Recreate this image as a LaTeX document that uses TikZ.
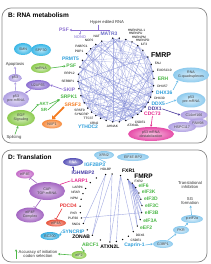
\documentclass[tikz,border=0pt]{standalone}
\usepackage{fontspec}
\setmainfont{Liberation Sans}
\usetikzlibrary{arrows.meta,shapes.geometric,calc}
\pgfdeclarelayer{bg}
\pgfsetlayers{bg,main}
\newcommand\fsz[2]{\fontsize{#1}{#2}\selectfont}
\definecolor{cBlue}{HTML}{2E9FDB}
\definecolor{cGreen}{HTML}{4DB848}
\definecolor{cPurple}{HTML}{8C6FD1}
\definecolor{cDPurple}{HTML}{4B3A9E}
\definecolor{cOrange}{HTML}{F47B20}
\definecolor{cMag}{HTML}{E5258C}
\definecolor{cRed}{HTML}{E83A3A}
\definecolor{cIndigo}{HTML}{4A3FA8}
\definecolor{cMatr}{HTML}{6D6FC8}
\definecolor{cNono}{HTML}{A99BE0}
\definecolor{cChord}{HTML}{7C86D6}
\definecolor{cLBlue}{HTML}{8ECBEE}
\definecolor{cLBlueA}{HTML}{6FBDE8}
\definecolor{cCyan}{HTML}{38B6E6}
\definecolor{cLav}{HTML}{B0A0E2}
\definecolor{cBubG}{HTML}{8CCB4E}
\definecolor{cBubO}{HTML}{F68A3C}
\definecolor{cBubM}{HTML}{E64CA8}
\definecolor{cBubP}{HTML}{A467C2}
\definecolor{cBubPk}{HTML}{C46BC8}
\definecolor{cBubR}{HTML}{E8543C}
\definecolor{cBubB}{HTML}{3AAEE0}
\definecolor{cBubI}{HTML}{5A54B8}
\definecolor{cPanel}{HTML}{8A8A8A}
\tikzset{
  dot/.style={circle,fill=black,inner sep=0pt,minimum size=1.5pt},
  sl/.style={font=\fsz{3.2}{3.6},inner sep=0.6pt},
  none/.style={inner sep=0pt},
  lbBase/.style={font=\bfseries\fsz{5}{5.5},inner sep=0.6pt},
  lbBlue/.style={lbBase,text=cBlue},
  lbGreen/.style={lbBase,text=cGreen},
  lbPurple/.style={lbBase,text=cPurple},
  lbDPurple/.style={lbBase,text=cDPurple},
  lbOrange/.style={lbBase,text=cOrange},
  lbMag/.style={lbBase,text=cMag},
  lbRed/.style={lbBase,text=cRed},
  lbIndigo/.style={lbBase,text=cIndigo},
  lbBlack/.style={lbBase,text=black},
  lbBig/.style={font=\bfseries\fsz{7}{7.5},inner sep=0.6pt},
  lbBigD/.style={font=\bfseries\fsz{6.5}{7},inner sep=0.6pt},
  bub/.style={ellipse,inner sep=0pt,align=center,font=\fsz{3.6}{4.1},text=black!75,inner color=#1!35,outer color=#1},
  chord/.style={cChord,opacity=0.55,line width=0.3pt},
  chordD/.style={cChord,opacity=0.7,line width=0.4pt},
  arr/.style={-{Stealth[length=2.2pt,width=2.4pt]},line width=0.6pt,#1},
  tbar/.style={-{Bar[width=4pt]},line width=0.6pt,#1},
  fatarr/.style={-{Triangle[length=3pt,width=5pt]},line width=1.8pt,#1},
  panel/.style={cPanel,line width=0.7pt,rounded corners=9pt},
  title/.style={font=\bfseries\fsz{6.5}{7},inner sep=0pt},
  txt/.style={font=\fsz{4.2}{4.8},inner sep=0.5pt,text=black!80},
  gtxt/.style={font=\bfseries\fsz{4.5}{5},inner sep=0.5pt,text=cGreen},
}
\def\Blist{95/bMATR/{}/none/south,%
112/bNAT/NAT/sl/south east,%
122/bNOP/NOP2/sl/south east,%
132/bPAB/PABPC1/sl/east,%
141/bPOP/POP1/sl/east,%
152/bPRMT/PRMT5/lbBlue/east,%
162/bPSF/PSF/lbGreen/east,%
172/bRRP/RRP12/sl/east,%
182/bSERB/SERBP1/sl/east,%
192/bSKIP/SKIP/lbPurple/east,%
202/bSRPK/SRPK1/lbGreen/east,%
213/bSRSFc/SRSF3/lbOrange/east,%
222/bSRSFi/SRSF9/sl/east,%
230/bSYN/SYNCRIP/sl/east,%
238/bTTC/TTC37/sl/east,%
246/bXRN/XRN2/sl/north east,%
255/bYTH/{}/none/north,%
265/bAHN/AHNAK/sl/north,%
275/bUa/{}/none/north,%
285/bATX/ATXN2L/sl/north west,%
296/bCSD/CSDE1/sl/north west,%
305/bUb/{}/none/north,%
312/bCDC/CDC73/lbMag/west,%
320/bDDXa/DDX1/lbDPurple/west,%
328/bDDXe/DDX5/lbBlue/west,%
336/bDHXc/DHX30/sl/west,%
344/bDHXf/DHX36/lbBlue/west,%
352/bDHXg/DHX57/sl/west,%
2/bERH/ERH/lbGreen/west,%
12/bEXO/EXOSC10/sl/west,%
22/bFAU/FAU/sl/west,%
33/bFMRP/FMRP/lbBig/west,%
45/bILF/{}/none/south,%
55/bHND/{}/none/south,%
65/bHNM/{}/none/south,%
75/bHNU/{}/none/south,%
85/bHNUL/{}/none/south}
\def\Dlist{100/dIGF/{}/none/south,%
88/dHDL/HDLBP/sl/south east,%
72/dFXRa/FXR1/lbBlack/south west,%
57/dFMRP/{}/none/south,%
47/dFXRb/FXR2/sl/west,%
37/dEIFsix/eIF6/lbGreen/west,%
26/dEIFk/eIF3K/lbGreen/west,%
15/dEIFd/eIF3D/lbGreen/west,%
4/dEIFc/eIF3C/lbGreen/west,%
352/dEIFb/eIF3B/lbGreen/west,%
340/dEIFa/eIF3A/lbGreen/west,%
328/dEEF/eEF2/lbGreen/west,%
316/dDDX/DDX6/sl/north west,%
304/dCSD/CSDE1/sl/north west,%
292/dCAP/Caprin-1/lbBlue/north west,%
280/dUa/{}/none/north,%
268/dATX/ATXN2L/lbBlack/north,%
250/dABC/ABCF1/lbGreen/north east,%
233/dZON/ZONAB/lbBlack/east,%
220/dSYN/SYNCRIP/lbBlue/east,%
207/dSND/SND1/sl/east,%
197/dPUF/PUF60/sl/east,%
188/dPKR/PKR/sl/east,%
177/dPDC/PDCD4/lbRed/east,%
165/dNPM/NPM/sl/east,%
155/dNFAR/NFAR/sl/east,%
145/dLARPf/LARP4/sl/east,%
132/dLARPa/LARP1/lbMag/east,%
118/dIGH/IGHMBP2/lbIndigo/south east}
\begin{document}
\begin{tikzpicture}[x=1pt,y=1pt]
\begin{pgfonlayer}{bg}
\fill[white] (0,0) rectangle (210,-264);
\end{pgfonlayer}
\useasboundingbox (0,0) rectangle (210,-264);
% panels
\draw[panel] (2,-8) rectangle (207,-143);
\draw[panel] (2,-150) rectangle (207,-262);
\node[title,anchor=west] (tB) at (8,-15) {B: RNA metabolism};
\node[title,anchor=west] (tD) at (8,-157) {D: Translation};
% ---------- panel B network
\foreach \ang/\nid/\lab/\sty/\anc [count=\k] in \Blist {%
  \node[dot] (\nid) at ({116+38*cos(\ang)},{-80+42*sin(\ang)}) {};
  \coordinate (b\k) at (\nid);
  \node[\sty,anchor=\anc] (L\nid) at ({116+41*cos(\ang)},{-80+45*sin(\ang)}) {\lab};
  \xdef\nB{\k}}
\begin{pgfonlayer}{bg}
\pgfmathsetseed{21}
\foreach \r in {1,...,145}{%
  \pgfmathrandominteger{\ia}{1}{\nB}%
  \pgfmathrandominteger{\ib}{1}{\nB}%
  \draw[chord] (b\ia) -- (b\ib);}
\end{pgfonlayer}
\node[sl,anchor=west] (LbHNUL) at (127,-30) {HNRNPUL1};
\node[sl,anchor=west] (LbHNU) at (128,-33.6) {HNRNPU};
\node[sl,anchor=west] (LbHNM) at (131,-37.2) {HNRNPM};
\node[sl,anchor=west] (LbHND) at (135,-40.8) {HNRNPD};
\node[sl,anchor=west] (LbILF) at (140,-44.4) {ILF3};
\node[lbBase,text=cMatr] (matr) at (109,-34) {MATR3};
\node[lbBlue] (ythT) at (88,-127) {YTHDC2};
% top
\node[txt] (hyper) at (107,-22) {Hyper edited RNA};
\node[lbBase,text=cPurple] (psfT) at (64,-30) {PSF};
\node[font=\bfseries\fsz{4}{4.4},text=cNono,inner sep=0.5pt] (nono) at (80,-37) {NONO};
\coordinate (jn) at (98,-30);
\draw[line width=0.5pt,cPurple] (hyper.south -| jn) -- (jn);
\draw[arr=cPurple] (jn) -- (psfT.east);
\draw[line width=0.5pt,cPurple] (jn) -| (matr.north);
\draw[arr=cNono] (nono.north |- jn) -- (nono.north);
% left side B
\node[bub=cCyan,minimum width=20,minimum height=12] (spf) at (41,-50) {SPF30};
\node[bub=cCyan,minimum width=18,minimum height=12] (smn) at (23,-49) {SMN};
\node[txt] (apop) at (15,-64) {Apoptosis};
\node[bub=cBubG,minimum width=20,minimum height=10] (snrna) at (41,-68) {snRNA};
\node[bub=cLav,minimum width=13,minimum height=8] (p53) at (15,-78) {p53};
\node[bub=cPurple,minimum width=24,minimum height=10] (u2af) at (38,-85) {U2AF65};
\node[bub=cLav,minimum width=26,minimum height=16] (p53pre) at (16,-99) {p53\\pre-mRNA};
\node[gtxt] (akt) at (44,-104) {AKT};
\node[gtxt] (sr) at (44,-110) {SR};
\node[bub=cBubG,minimum width=28,minimum height=16] (egf) at (21,-118) {EGF\\Signaling};
\node[txt] (splc) at (14,-137) {Splicing};
\node[bub=cBubO,minimum width=20,minimum height=9] (nxf) at (52,-124) {NXF1};
\draw[arr=cLav] (p53pre) -- (p53);
\draw[arr=cLav] (p53) -- (apop);
\draw[arr=cPurple] (u2af) -- (p53pre);
\draw[arr=cPurple] (LbSKIP.west) -- (u2af.east);
\draw[arr=cGreen] (snrna.east) -- (LbPSF.west);
\draw[arr=cGreen] (akt.east) -- (LbSRPK.south west);
\draw[arr=cGreen] (sr.east) -- (LbSRPK.south west);
\draw[arr=cGreen] (egf.north east) -- (akt.west);
\draw[arr=cGreen] (splc) -- (egf);
\draw[fatarr=cOrange] (LbSRSFc.south west) -- (nxf.north);
% right side B
\node[bub=cLBlue,minimum width=30,minimum height=15] (gq) at (191,-75) {RNA\\G-quadruplexes};
\node[bub=cLBlue,minimum width=29,minimum height=15] (p53b) at (191,-100) {p53\\pre-mRNA};
\node[bub=cLav,minimum width=27,minimum height=10] (c14) at (194,-115) {C14orf166};
\node[bub=cLav,minimum width=19,minimum height=9] (fam) at (198,-123) {FAM98};
\node[bub=cLav,minimum width=28,minimum height=10] (hspc) at (182,-127) {HSPC117};
\node[bub=cBubM,minimum width=46,minimum height=14] (destab) at (151,-134) {p53 mRNA\\destabilization};
\draw[arr=cLBlueA] (LbDHXf.north east) -- (gq.south west);
\draw[arr=cLBlueA] (LbDDXe.east) -- (p53b.west);
\draw[arr=cDPurple] (LbDDXa.east) -- (c14.west);
\draw[arr=cMag] (LbCDC.south) -- (destab.north);
% ---------- panel D network
\foreach \ang/\nid/\lab/\sty/\anc in \Dlist {%
  \node[dot] (\nid) at ({111+31*cos(\ang)},{-208+34*sin(\ang)}) {};
  \node[\sty,anchor=\anc] (L\nid) at ({111+33.5*cos(\ang)},{-208+36.5*sin(\ang)}) {\lab};}
\node[lbBigD,anchor=west] (LdFMRPb) at (133.5,-176.5) {FMRP};
\begin{pgfonlayer}{bg}
\foreach \e in {dEIFsix,dEIFk,dEIFd,dEIFc,dEIFb,dEIFa,dEEF}{%
  \draw[chordD] (dFMRP) -- (\e);
  \draw[chordD] (dFXRb) -- (\e);}
\draw[chordD] (dHDL) -- (dZON);
\draw[chordD] (dHDL) -- (dATX);
\draw[chordD] (dFXRa) -- (dUa);
\draw[chordD] (dFXRa) -- (dATX);
\draw[chordD] (dIGF) -- (dSND);
\draw[chordD] (dIGF) -- (dZON);
\draw[chordD] (dPUF) -- (dEIFb);
\draw[chordD] (dFXRa) -- (dDDX);
\end{pgfonlayer}
\node[lbBlue,anchor=east] (igfT) at (106,-165) {IGF2BP3};
\node[bub=cLBlue,minimum width=20,minimum height=8] (xrn) at (104,-155) {XRN2};
\node[bub=cLBlue,minimum width=32,minimum height=8] (bp2) at (133,-157) {EIF4E-BP2};
\node[bub=cBubI,minimum width=20,minimum height=8,text=white] (rna) at (73,-162) {RNA};
\draw[line width=0.6pt,cLBlueA] (igfT.north east) -- (xrn.south west);
\draw[arr=cIndigo] (rna.south |- LdIGH.north) -- (rna.south);
\node[bub=cBubPk,minimum width=18,minimum height=9] (eife) at (25,-174) {eIF4E};
\node[bub=cBubP,minimum width=36,minimum height=18] (cap) at (47,-191) {CAP\\TOP-mRNA};
\node[bub=cBubP,minimum width=28,minimum height=15] (eiff) at (30,-215) {eIF4F\\Complex};
\node[bub=cBubR,minimum width=20,minimum height=7] (eifa) at (56,-223) {eIF4A};
\node[bub=cBubB,minimum width=19,minimum height=8] (bc) at (50,-236) {BC200};
\node[bub=cBubG,minimum width=15,minimum height=8] (eiftwo) at (79,-255) {eIF2};
\node[txt,align=center] (acc) at (38,-254) {Accuracy of initiation\\codon selection};
\draw[arr=cGreen] ([xshift=-2pt]acc.south west) -- ([xshift=-2pt]acc.north west);
\draw[line width=0.6pt,cMag] (LdLARPa.west) -- (cap.north east);
\draw[tbar=cBubP] (cap) -- (eife);
\draw[tbar=cBubP] (cap) -- (eiff);
\draw[tbar=cRed] ([xshift=3pt]LdPDC.south west) -- (eifa.north);
\draw[arr=cBubB] (LdSYN.west) -- (bc.east);
\draw[arr=cGreen] (LdABC.south west) -- (eiftwo.north east);
\draw[arr=cGreen] (eiftwo.west) -- (acc.east);
% right side D
\node[txt,align=center] (tinh) at (190,-185) {Translational\\inhibition};
\node[txt,align=center] (sgf) at (190,-201) {SG\\formation};
\node[bub=cLBlue,minimum width=22,minimum height=8] (peif) at (192,-219) {p-eIF2α};
\node[bub=cLBlue,minimum width=16,minimum height=8] (pkr) at (181,-230) {PKR};
\node[bub=cLBlue,minimum width=20,minimum height=8] (gbp) at (163,-244) {G3BP1};
\draw[arr=cLBlueA] (peif) -- (sgf);
\draw[arr=cLBlueA] (pkr) -- (peif);
\draw[arr=cLBlueA] (gbp) -- (pkr);
\draw[arr=cLBlueA] (LdCAP.east) -- (gbp.west);
\end{tikzpicture}
\end{document}
